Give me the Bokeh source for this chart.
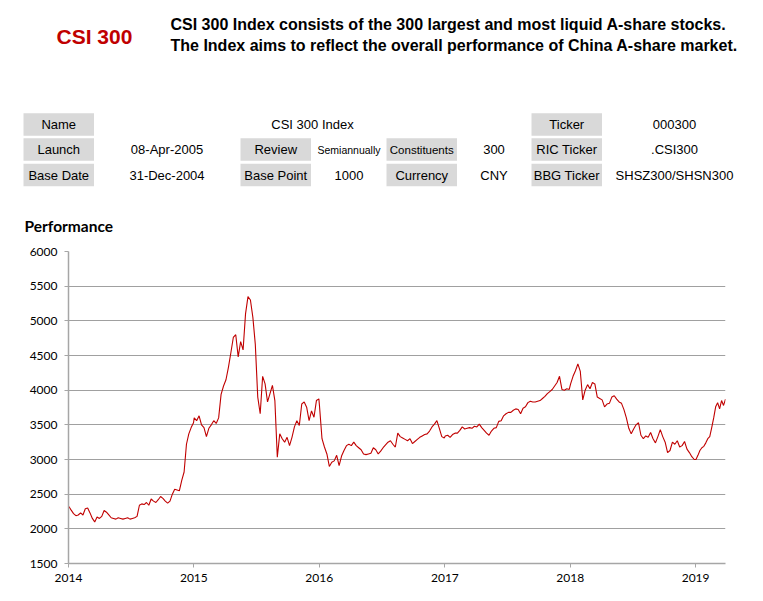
import pandas as pd
from bokeh.plotting import figure
from bokeh.layouts import column
from bokeh.models import Range1d, FixedTicker, DatetimeTickFormatter
from bokeh.core.properties import value
from bokeh.embed import file_html
from bokeh.resources import INLINE

# ---------------- data ----------------
index_name = "CSI 300"
desc_lines = [
    "CSI 300 Index consists of the 300 largest and most liquid A-share stocks.",
    "The Index aims to reflect the overall performance of China A-share market.",
]
section_title = "Performance"

# table: (text, row, column)
label_cells = [("Name", 0, 0), ("Ticker", 0, 3),
               ("Launch", 1, 0), ("Review", 1, 1), ("Constituents", 1, 2), ("RIC Ticker", 1, 3),
               ("Base Date", 2, 0), ("Base Point", 2, 1), ("Currency", 2, 2), ("BBG Ticker", 2, 3)]
value_cells = [("000300", 0, 3),
               ("08-Apr-2005", 1, 0), ("Semiannually", 1, 1), ("300", 1, 2), (".CSI300", 1, 3),
               ("31-Dec-2004", 2, 0), ("1000", 2, 1), ("CNY", 2, 2), ("SHSZ300/SHSN300", 2, 3)]
merged_value = "CSI 300 Index"

v2014 = [2322, 2270, 2220, 2190, 2200,
         2230, 2200, 2290, 2300,
         2230, 2150, 2100, 2170, 2150,
         2180, 2265, 2240, 2200,
         2160, 2150, 2140, 2160, 2150,
         2140, 2150, 2160, 2140,
         2150, 2160, 2180, 2340,
         2360, 2350, 2380, 2340,
         2430, 2400, 2380, 2420,
         2466, 2440, 2400, 2370, 2400,
         2500, 2570, 2560, 2550, 2700,
         2820, 3220, 3370, 3460, 3530]
v2015 = [3600, 3560, 3630, 3500, 3460, 3330, 3450, 3500, 3560, 3520,
         3600, 3940, 4060, 4150, 4330, 4540, 4760, 4800, 4480, 4700,
         4580, 5100, 5350, 5300, 5050, 4660, 3900, 3660, 4200, 4090,
         3830, 3950, 4070, 3850, 3034, 3370, 3300, 3250, 3320, 3200,
         3320, 3470, 3560, 3490, 3800, 3830, 3755, 3560, 3700, 3610,
         3850, 3875]
v2016 = [3760, 3300, 3180, 3080, 2900, 2960, 2980, 3060, 2910, 3050,
         3130, 3200, 3220, 3200, 3250, 3200, 3170, 3140, 3080, 3070,
         3080, 3090, 3170, 3140, 3080, 3120, 3170, 3210, 3250, 3270,
         3220, 3180, 3380, 3330, 3310, 3290, 3270, 3300, 3230, 3260,
         3290, 3320, 3340, 3360, 3370, 3410, 3470, 3510, 3560, 3450,
         3330, 3310]
v2017 = [3340, 3350, 3320, 3360, 3380, 3380, 3420, 3470, 3440, 3450,
         3460, 3450, 3480, 3470, 3510, 3460, 3420, 3380, 3350, 3410,
         3450, 3460, 3550, 3560, 3630, 3660, 3680, 3680, 3710, 3730,
         3720, 3660, 3740, 3760, 3820, 3840, 3830, 3830, 3840, 3850,
         3880, 3910, 3950, 3980, 4010, 4060, 4110, 4200, 4010, 4000,
         4020, 4010]
v2018 = [4090, 4200, 4280, 4380, 4270, 3860, 4000, 4080, 4020, 4110,
         4090, 3900, 3880, 3860, 3760, 3800, 3810, 3900, 3920, 3870,
         3830, 3810, 3720, 3600, 3450, 3370, 3440, 3500, 3530, 3350,
         3300, 3340, 3320, 3390, 3300, 3240, 3330, 3430, 3330, 3250,
         3100, 3130, 3250, 3220, 3270, 3180, 3200, 3260, 3150, 3100,
         3040, 3000]
v2019 = [3000, 3060, 3130, 3170, 3190, 3240, 3300, 3330, 3460, 3600,
         3760, 3820, 3730, 3850, 3780, 3870]

year_series = [(2014, v2014, "2014-12-31"), (2015, v2015, "2015-12-31"),
               (2016, v2016, "2016-12-30"), (2017, v2017, "2017-12-29"),
               (2018, v2018, "2018-12-28"), (2019, v2019, "2019-03-29")]

y_ticks = [1500, 2000, 2500, 3000, 3500, 4000, 4500, 5000, 5500, 6000]
x_years = [2014, 2015, 2016, 2017, 2018, 2019]

dates = []
vals = []
for yr, vs, last in year_series:
    d = pd.date_range(f"{yr}-01-02", last, periods=len(vs))
    dates.extend(list(d))
    vals.extend(vs)

# ---------------- header figure ----------------
W = 747
HH = 240
hdr = figure(width=W, height=HH, x_range=Range1d(0, W), y_range=Range1d(HH, 0),
             output_backend="svg", toolbar_location=None, min_border=0,
             x_axis_location=None, y_axis_location=None, outline_line_color=None)
hdr.grid.visible = False
hdr.frame_align = False

hdr.text(x=[56], y=[36], text=[index_name], text_color="#C00000",
         text_font=value("Liberation Sans"), text_font_style="bold",
         text_font_size="21px", text_align="left", text_baseline="middle")
hdr.text(x=[170, 170], y=[24, 45], text=desc_lines, text_color="#000000",
         text_font=value("Liberation Sans"), text_font_style="bold",
         text_font_size="16px", text_align="left", text_baseline="middle")

lab_left = [23, 240, 386, 531]
val_center = [166.5, 348.5, 493.5, 674]
row_center = [124, 149, 174.5]
cell_w, cell_h = 70.5, 22.5

hdr.rect(x=[lab_left[c] + cell_w / 2 for _, r, c in label_cells],
         y=[row_center[r] for _, r, c in label_cells],
         width=cell_w, height=cell_h, fill_color="#D9D9D9", line_color=None)
hdr.text(x=[lab_left[c] + cell_w / 2 for _, r, c in label_cells],
         y=[row_center[r] for _, r, c in label_cells],
         text=[t for t, r, c in label_cells],
         text_font=value("Liberation Sans"),
         text_font_size=["11.5px" if t == "Constituents" else "13px" for t, r, c in label_cells],
         text_align="center", text_baseline="middle", text_color="#000000")
hdr.text(x=[val_center[c] for _, r, c in value_cells],
         y=[row_center[r] for _, r, c in value_cells],
         text=[t for t, r, c in value_cells],
         text_font=value("Liberation Sans"),
         text_font_size=["10.5px" if t == "Semiannually" else "13px" for t, r, c in value_cells],
         text_align="center", text_baseline="middle", text_color="#000000")
hdr.text(x=[312], y=[row_center[0]], text=[merged_value], text_font=value("Liberation Sans"),
         text_font_size="13px", text_align="center", text_baseline="middle")

hdr.text(x=[24], y=[225], text=[section_title], text_font=value("Lato"), text_font_style="bold",
         text_font_size="15.5px", text_align="left", text_baseline="middle")

# ---------------- chart figure ----------------
x_start = pd.Timestamp("2014-01-01")
x_end = pd.Timestamp("2019-03-29")
p = figure(width=W, height=353, x_axis_type="datetime",
           x_range=Range1d(x_start, x_end), y_range=Range1d(1500, 6000),
           output_backend="svg", toolbar_location=None,
           min_border_left=68, min_border_right=22, min_border_top=11, min_border_bottom=30,
           outline_line_color=None)
p.frame_align = False
p.line(dates, vals, line_color="#C00000", line_width=1.1)

p.xaxis.ticker = FixedTicker(ticks=[pd.Timestamp(f"{y}-01-01").value / 1e6 for y in x_years])
fmt = "%Y"
p.xaxis.formatter = DatetimeTickFormatter(years=fmt, months=fmt, days=fmt, hours=fmt,
                                          hourmin=fmt, minutes=fmt, minsec=fmt, seconds=fmt,
                                          milliseconds=fmt, microseconds=fmt)
p.yaxis.ticker = FixedTicker(ticks=y_ticks)

for ax in (p.xaxis, p.yaxis):
    ax.axis_line_color = "#A6A6A6"
    ax.axis_line_width = 1.5
    ax.major_tick_line_color = "#A6A6A6"
    ax.major_tick_in = 0
    ax.major_tick_out = 4
    ax.minor_tick_line_color = None
    ax.major_label_text_font = "Lato"
    ax.major_label_text_font_size = "12px"
    ax.major_label_text_color = "#000000"
p.xaxis.major_label_standoff = 6
p.yaxis.major_label_standoff = 7

p.xgrid.visible = False
p.ygrid.grid_line_color = "#A0A0A0"
p.ygrid.grid_line_width = 1

layout = column(hdr, p)
open("out.html", "w").write(file_html(layout, INLINE))
